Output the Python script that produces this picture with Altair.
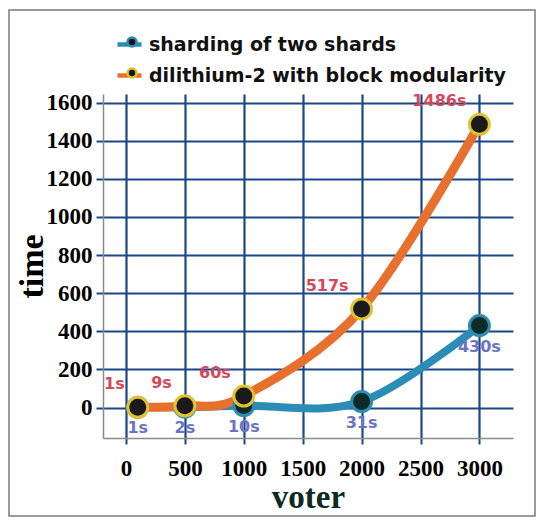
import altair as alt
import pandas as pd

voters = [100, 500, 1000, 2000, 3000]
shard_times = [1, 2, 10, 31, 430]
dil_times = [1, 9, 60, 517, 1486]
s_shard = "sharding of two shards"
s_dil = "dilithium-2 with block modularity"
series_names = [s_shard, s_dil]
x_ticks = [0, 500, 1000, 1500, 2000, 2500, 3000]
y_ticks = [0, 200, 400, 600, 800, 1000, 1200, 1400, 1600]

rows = []
for v, t in zip(voters, shard_times):
    rows.append({"series": s_shard, "voter": v, "time": t, "label": f"{t}s"})
for v, t in zip(voters, dil_times):
    rows.append({"series": s_dil, "voter": v, "time": t, "label": f"{t}s"})
df = pd.DataFrame(rows)
# distinct keys so that the marker legend stays separate from the line legend
df["grp"] = df["series"] + " "
df["grp2"] = df["series"] + "  "
ring_names = [n + " " for n in series_names]
fill_names = [n + "  " for n in series_names]

GRID = "#1a4785"
BLUE = "#2b8db5"
ORANGE = "#e8702e"

x_enc = alt.X("voter:Q",
              scale=alt.Scale(domain=[-195, 3285], nice=False, zero=False),
              axis=alt.Axis(values=x_ticks, format="d", grid=True, gridColor=GRID, gridWidth=2.2,
                            tickColor=GRID, tickWidth=2, tickSize=6,
                            domainColor="#8a8a8a", domainWidth=1.5,
                            labelFont="Liberation Serif", labelFontWeight="bold",
                            labelFontSize=23, labelColor="#000", labelPadding=13,
                            labelFlush=False, labelOverlap=False,
                            title="voter", titleFont="Liberation Serif",
                            titleFontWeight="bold", titleFontSize=33,
                            titleColor="#0d2b20", titleX=205, titleY=59,
                            titleBaseline="middle", titleAlign="center"))
y_enc = alt.Y("time:Q",
              scale=alt.Scale(domain=[-160, 1645], nice=False, zero=False),
              axis=alt.Axis(values=y_ticks, format="d", grid=True, gridColor=GRID, gridWidth=2.2,
                            tickColor=GRID, tickWidth=2, tickSize=7,
                            domainColor="#8a8a8a", domainWidth=1.5,
                            labelFont="Liberation Serif", labelFontWeight="bold",
                            labelFontSize=23, labelColor="#000", labelPadding=4,
                            labelFlush=False, labelOverlap=False,
                            title="time", titleFont="Liberation Serif",
                            titleFontWeight="bold", titleFontSize=34,
                            titleColor="#000", titleX=-71, titleY=172,
                            titleBaseline="middle", titleAlign="center", titleAngle=270))

base = alt.Chart(df)

color_scale = alt.Scale(domain=series_names, range=[BLUE, ORANGE])
ring_scale = alt.Scale(domain=ring_names, range=[BLUE, "#e3c22f"])
fill_scale = alt.Scale(domain=fill_names, range=["#0c2b24", "#1a1a1a"])

legend_line = alt.Legend(orient="none", legendX=12, legendY=-64, title=None,
                         symbolType="M-1,0L1,0", symbolSize=576, symbolStrokeWidth=4.5,
                         labelFont="DejaVu Sans", labelFontWeight="bold", labelFontSize=19,
                         labelColor="#111", labelOffset=5, rowPadding=6, padding=0,
                         labelLimit=500)
legend_pt = alt.Legend(orient="none", legendX=19.5, legendY=-61.5, title=None,
                       symbolType="circle",
                       symbolSize=81, symbolStrokeWidth=2.5, symbolFillColor="#151515",
                       labelFont="DejaVu Sans", labelFontWeight="bold", labelFontSize=19,
                       labelExpr="''", labelOffset=5, rowPadding=11, padding=0,
                       labelLimit=500)

line_blue = base.transform_filter(alt.datum.series == s_shard).mark_line(
    interpolate="cardinal", strokeWidth=8).encode(
    x=x_enc, y=y_enc, color=alt.Color("series:N", scale=color_scale, legend=legend_line))
line_orange = base.transform_filter(alt.datum.series == s_dil).mark_line(
    interpolate="cardinal", strokeWidth=9).encode(
    x=x_enc, y=y_enc, color=alt.Color("series:N", scale=color_scale, legend=legend_line))

pts_blue = base.transform_filter(alt.datum.series == s_shard).mark_point(
    filled=True, size=400, strokeWidth=3, opacity=1, shape="circle").encode(
    x=x_enc, y=y_enc,
    stroke=alt.Stroke("grp:N", scale=ring_scale, legend=legend_pt),
    fill=alt.Fill("grp2:N", scale=fill_scale, legend=None))
pts_orange = base.transform_filter(alt.datum.series == s_dil).mark_point(
    filled=True, size=400, strokeWidth=3, opacity=1, shape="circle").encode(
    x=x_enc, y=y_enc,
    stroke=alt.Stroke("grp:N", scale=ring_scale, legend=legend_pt),
    fill=alt.Fill("grp2:N", scale=fill_scale, legend=None))

txt_blue = base.transform_filter(alt.datum.series == s_shard).mark_text(
    align="center", baseline="middle", dy=21, font="DejaVu Sans", fontWeight="bold",
    fontSize=16, color="#6a74c4").encode(x=x_enc, y=y_enc, text="label:N")
txt_orange = base.transform_filter(alt.datum.series == s_dil).mark_text(
    align="right", baseline="middle", dx=-13, dy=-23, font="DejaVu Sans", fontWeight="bold",
    fontSize=16, color="#d3495b").encode(x=x_enc, y=y_enc, text="label:N")

border = alt.Chart(pd.DataFrame({"k": [0]})).mark_rect(
    fillOpacity=0, stroke="#7a7a7a", strokeWidth=1.5).encode(
    x=alt.value(-94), x2=alt.value(432), y=alt.value(-84), y2=alt.value(422))

chart = alt.layer(border, line_blue, line_orange, pts_blue, pts_orange, txt_blue, txt_orange).properties(
    width=410, height=344,
    autosize=alt.AutoSizeParams(type="none"),
    padding={"left": 95, "top": 86, "right": 25, "bottom": 80},
    background="white",
).configure_view(stroke=None)

chart.save("out.html", embed_options={"renderer": "svg", "actions": False})
